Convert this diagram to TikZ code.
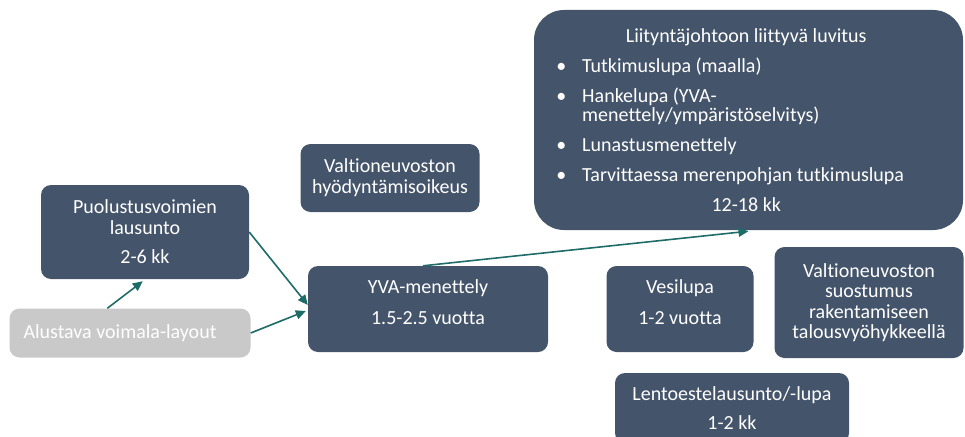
\documentclass[tikz,border=0pt]{standalone}
\usepackage{fontspec}
\setmainfont{Carlito}[Ligatures=NoCommon]
\usepackage{enumitem}
\usetikzlibrary{arrows.meta}

\definecolor{boxblue}{RGB}{68,84,106}
\definecolor{layoutgray}{RGB}{201,201,201}
\definecolor{arrowteal}{RGB}{30,108,104}

\tikzstyle{permitbox} = [fill=boxblue, text=white, rectangle,
    rounded corners=10pt, align=center, inner sep=0pt,
    font=\fontsize{20}{21}\selectfont]
\tikzstyle{flowarrow} = [draw=arrowteal, line width=1.6pt,
    -{Triangle[length=10pt,width=9pt]}]

\begin{document}
\begin{tikzpicture}[x=1pt, y=-1pt]
    \useasboundingbox (0,0) rectangle (965,436);
%------------ lupaboksit ---------------------
    \node [permitbox, minimum width=208pt, minimum height=94pt] (puolustus) at (145,232)
        {Puolustusvoimien\\lausunto\\[8pt]2-6 kk};
    \node [permitbox, fill=layoutgray, minimum width=241pt, minimum height=49pt,
        text width=213pt, align=flush left] (alustava) at (130,333)
        {Alustava voimala-layout};
    \node [permitbox, minimum width=179pt, minimum height=68pt] (hyodyntamis) at (390,178)
        {Valtioneuvoston\\hyödyntämisoikeus};
    \node [permitbox, minimum width=240pt, minimum height=86pt, text depth=14pt] (yva) at (428,309)
        {YVA-menettely\\[10pt]1.5-2.5 vuotta};
    \node [permitbox, minimum width=147pt, minimum height=86pt, text depth=14pt] (vesilupa) at (680,309)
        {Vesilupa\\[10pt]1-2 vuotta};
    \node [permitbox, minimum width=189pt, minimum height=111pt,
        font=\fontsize{20}{20.5}\selectfont] (suostumus) at (869,302.5)
        {Valtioneuvoston\\suostumus\\rakentamiseen\\talousvyöhykkeellä};
    \node [permitbox, minimum width=234pt, minimum height=70pt] (lento) at (732,408)
        {Lentoestelausunto/-lupa\\[8pt]1-2 kk};
%------------ Liityntäjohdon luvitus ---------------------
    \node [permitbox, rounded corners=30pt, minimum width=429pt, minimum height=220pt,
        align=left] (liitynta) at (748.5,120) {%
        \begin{minipage}{388pt}
        \fontsize{20}{19}\selectfont
        \centering Liityntäjohtoon liittyvä luvitus\par
        \begin{itemize}[leftmargin=30pt, labelsep=16pt, topsep=11pt, itemsep=11pt,
            parsep=0pt, partopsep=0pt]
            \item Tutkimuslupa (maalla)
            \item Hankelupa (YVA-\\menettely/ympäristöselvitys)
            \item Lunastusmenettely
            \item Tarvittaessa merenpohjan tutkimuslupa
        \end{itemize}
        \centering 12-18 kk\par
        \end{minipage}
    };
%------------ nuolet ---------------------
    \draw [flowarrow] ([xshift=98pt]alustava.north west)
        -- ([xshift=102pt,yshift=-2pt]puolustus.south west);
    \draw [flowarrow] (puolustus.east) -- ([yshift=4pt]yva.west);
    \draw [flowarrow] (alustava.east) -- ([xshift=-2pt,yshift=-2pt]yva.west);
    \draw [flowarrow] ([xshift=-5pt]yva.north) -- ([yshift=-1pt]liitynta.south);
\end{tikzpicture}
\end{document}
